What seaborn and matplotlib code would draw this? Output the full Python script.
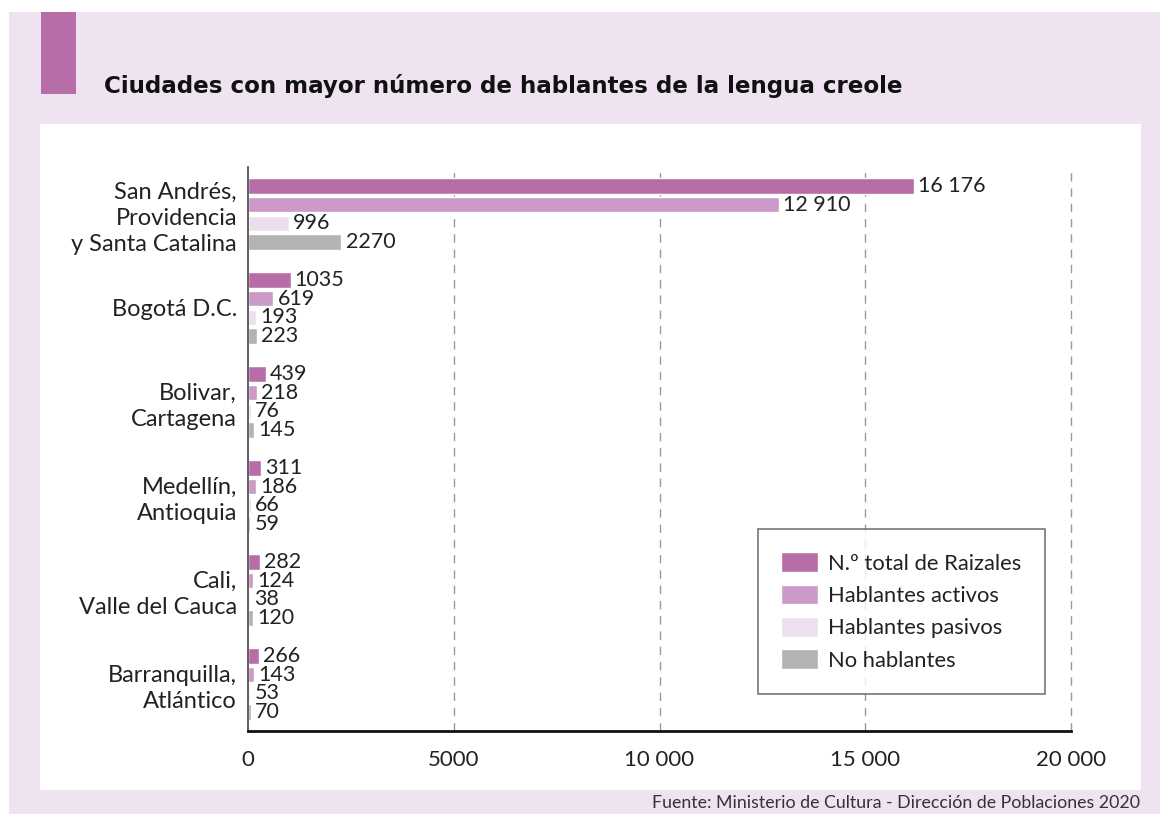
import pandas as pd
import matplotlib
matplotlib.use("Agg")
import matplotlib.pyplot as plt
from matplotlib.patches import Rectangle
from matplotlib.ticker import FuncFormatter
import seaborn as sns

ciudades = ["San Andrés,\nProvidencia\ny Santa Catalina", "Bogotá D.C.",
            "Bolivar,\nCartagena", "Medellín,\nAntioquia",
            "Cali,\nValle del Cauca", "Barranquilla,\nAtlántico"]
series = ["N.º total de Raizales", "Hablantes activos", "Hablantes pasivos", "No hablantes"]
total_raizales = [16176, 1035, 439, 311, 282, 266]
activos = [12910, 619, 218, 186, 124, 143]
pasivos = [996, 193, 76, 66, 38, 53]
no_hablantes = [2270, 223, 145, 59, 120, 70]
colores = ["#B76EA8", "#CC9AC8", "#EEDFF0", "#B3B3B3"]

df = pd.DataFrame({
    "ciudad": ciudades * 4,
    "serie": [s for s in series for _ in ciudades],
    "valor": total_raizales + activos + pasivos + no_hablantes,
})


def fmt_num(v, pos=None):
    v = int(round(v))
    if v >= 10000:
        return f"{v:,}".replace(",", " ")
    return str(v)


sns.set_style("white")
plt.rcParams["font.family"] = ["Lato", "DejaVu Sans"]

W, H = 1164, 814
fig = plt.figure(figsize=(W / 100, H / 100), dpi=100)
fig.patch.set_facecolor("white")

# fondos
fig.add_artist(Rectangle((9 / W, 0), (1160 - 9) / W, 1 - 12 / H,
                         transform=fig.transFigure, facecolor="#EFE3F1", edgecolor="none", zorder=-3))
fig.add_artist(Rectangle((40 / W, 1 - 790 / H), (1141 - 40) / W, (790 - 124) / H,
                         transform=fig.transFigure, facecolor="white", edgecolor="none", zorder=-2))
fig.add_artist(Rectangle((41 / W, 1 - 94 / H), (76 - 41) / W, (94 - 12) / H,
                         transform=fig.transFigure, facecolor="#B76EA8", edgecolor="none", zorder=-1))

ax = fig.add_axes([248 / W, 1 - 731 / H, (1071 - 248) / W, (731 - 167) / H])
ax.set_facecolor("none")

sns.barplot(data=df, y="ciudad", x="valor", hue="serie", orient="h",
            palette=colores, width=0.8, gap=0.16, ax=ax, saturation=1)

for cont in ax.containers:
    labels = [fmt_num(b.get_width()) for b in cont]
    ax.bar_label(cont, labels=labels, padding=3, fontsize=15.5, color="#222222")

ax.set_xlim(0, 20000)
ax.set_ylim(5.5, -0.5)
ax.set_xticks([0, 5000, 10000, 15000, 20000])
ax.xaxis.set_major_formatter(FuncFormatter(fmt_num))
ax.tick_params(axis="x", labelsize=16, length=0, pad=14, colors="#222222")
ax.tick_params(axis="y", labelsize=17, length=0, pad=8, colors="#222222")
for lab in ax.get_yticklabels():
    lab.set_linespacing(1.3)
ax.set_xlabel("")
ax.set_ylabel("")

for xv in [5000, 10000, 15000, 20000]:
    ax.axvline(xv, color="#999999", linestyle=(0, (6, 5)), linewidth=1, zorder=0, clip_on=False)

for s in ["top", "right"]:
    ax.spines[s].set_visible(False)
ax.spines["left"].set_color("#444444")
ax.spines["left"].set_linewidth(1.2)
ax.spines["bottom"].set_color("#111111")
ax.spines["bottom"].set_linewidth(2)

leg = ax.legend(loc="lower left", bbox_to_anchor=(0.62, 0.066), fontsize=15.8,
                frameon=True, fancybox=False, handlelength=1.65, handleheight=1.0,
                borderpad=1.05, labelspacing=0.5, handletextpad=0.5, borderaxespad=0)
leg.get_frame().set_edgecolor("#555555")
leg.get_frame().set_linewidth(1.2)
for t in leg.get_texts():
    t.set_color("#222222")

fig.text(104 / W, 1 - 93 / H, "Ciudades con mayor número de hablantes de la lengua creole",
         fontsize=16.6, fontweight="bold", family=["DejaVu Sans"], color="#111111",
         ha="left", va="baseline")
fig.text(1140 / W, 1 - 808 / H, "Fuente: Ministerio de Cultura - Dirección de Poblaciones 2020",
         fontsize=12.8, color="#333333", ha="right", va="baseline")

fig.savefig("out.png", dpi=100, facecolor=fig.get_facecolor())
